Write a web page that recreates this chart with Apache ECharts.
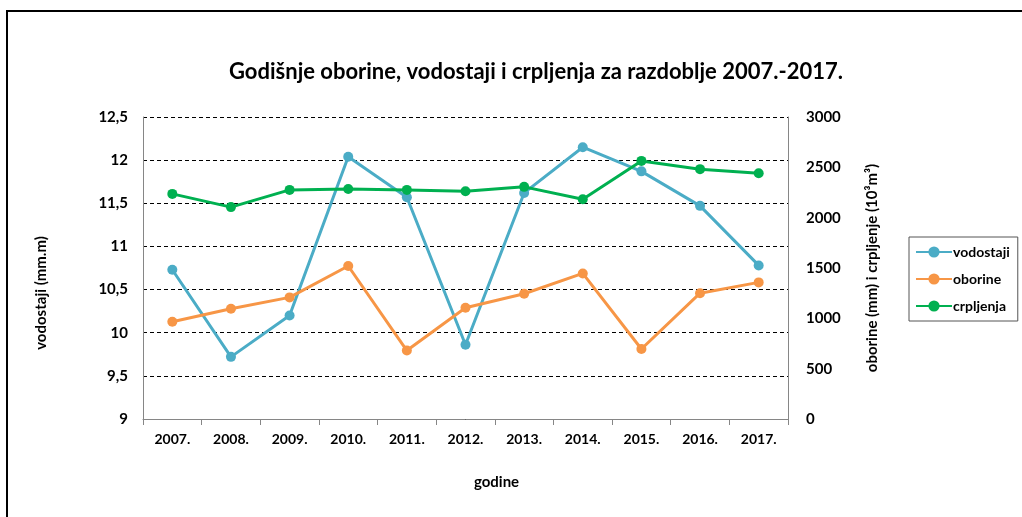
<!DOCTYPE html>
<html>
<head>
<meta charset="utf-8">
<script src="https://cdn.jsdelivr.net/npm/echarts@6/dist/echarts.min.js"></script>
<style>
  html, body { margin: 0; padding: 0; background: #fff; }
  #chart { width: 1022px; height: 517px; }
</style>
</head>
<body>
<div id="chart"></div>
<script>
const years = ['2007.', '2008.', '2009.', '2010.', '2011.', '2012.', '2013.', '2014.', '2015.', '2016.', '2017.']
const vodostaji = [10.73, 9.72, 10.2, 12.04, 11.57, 9.86, 11.62, 12.15, 11.87, 11.47, 10.78]
const oborine = [966, 1095, 1208, 1520, 680, 1105, 1244, 1446, 695, 1250, 1357]
const crpljenja = [2236, 2105, 2276, 2284, 2276, 2263, 2306, 2183, 2564, 2482, 2442]

const font = 'Lato, "Noto Sans", sans-serif'
const myChart = echarts.init(document.getElementById('chart'))

function lineSeries(name, data, color, yIndex) {
    return {
        name: name,
        type: 'line',
        yAxisIndex: yIndex,
        data: data,
        symbol: 'circle',
        symbolSize: 10,
        itemStyle: { color: color },
        lineStyle: { color: color, width: 3 },
        animation: false
    }
}

myChart.setOption({
    textStyle: { fontFamily: font },
    title: {
        text: 'Godišnje oborine, vodostaji i crpljenja za razdoblje 2007.-2017.',
        left: 224,
        top: 56,
        textStyle: { fontSize: 22, fontWeight: 'bold', color: '#000', fontFamily: font }
    },
    graphic: [
        {
            type: 'polyline',
            shape: { points: [[7, 530], [7, 11], [1030, 11]] },
            style: { stroke: '#000', lineWidth: 2, fill: null }
        }
    ],
    legend: {
        orient: 'vertical',
        left: 909,
        top: 237,
        width: 110,
        padding: [8, 8, 8, 6],
        itemGap: 13,
        itemWidth: 36,
        itemHeight: 14,
        borderColor: '#555',
        borderWidth: 1,
        textStyle: { fontSize: 14, fontWeight: 'bold', color: '#000', fontFamily: font, padding: [0, 0, 0, -4] },
        data: ['vodostaji', 'oborine', 'crpljenja']
    },
    grid: { left: 143, right: 234, top: 117, bottom: 98 },
    xAxis: {
        type: 'category',
        data: years,
        boundaryGap: true,
        name: 'godine',
        nameLocation: 'middle',
        nameGap: 56,
        nameTextStyle: { fontSize: 15, fontWeight: 'bold', color: '#000', padding: [0, 0, 0, 62] },
        axisLine: { lineStyle: { color: '#868686', width: 1 } },
        axisTick: { show: true, length: 6, alignWithLabel: false, lineStyle: { color: '#868686' } },
        axisLabel: { fontSize: 14, fontWeight: 'bold', color: '#000', margin: 13 }
    },
    yAxis: [
        {
            type: 'value',
            min: 9,
            max: 12.5,
            interval: 0.5,
            name: 'vodostaji (mm.m)',
            nameLocation: 'middle',
            nameRotate: 90,
            nameGap: 94,
            nameTextStyle: { fontSize: 15, fontWeight: 'bold', color: '#000', padding: [0, 50, 0, 0] },
            axisLine: { show: true, lineStyle: { color: '#868686', width: 1 } },
            axisTick: { show: false },
            axisLabel: {
                fontSize: 15,
                fontWeight: 'bold',
                color: '#000',
                margin: 15,
                formatter: function (v) { return String(v).replace('.', ',') }
            },
            splitLine: { show: true, lineStyle: { color: '#000', type: [4, 3], width: 1 } }
        },
        {
            type: 'value',
            min: 0,
            max: 3000,
            interval: 500,
            name: 'oborine (mm) i crpljenje (10³m³)',
            nameLocation: 'middle',
            nameRotate: 90,
            nameGap: 77,
            nameTextStyle: { fontSize: 15, fontWeight: 'bold', color: '#000' },
            axisLine: { show: true, lineStyle: { color: '#868686', width: 1 } },
            axisTick: { show: false },
            axisLabel: {
                fontSize: 15,
                fontWeight: 'bold',
                color: '#000',
                margin: 18,
                formatter: function (v) { return String(v) }
            },
            splitLine: { show: false }
        }
    ],
    series: [
        lineSeries('vodostaji', vodostaji, '#4BACC6', 0),
        lineSeries('oborine', oborine, '#F79646', 1),
        lineSeries('crpljenja', crpljenja, '#00B050', 1)
    ]
})
</script>
</body>
</html>
